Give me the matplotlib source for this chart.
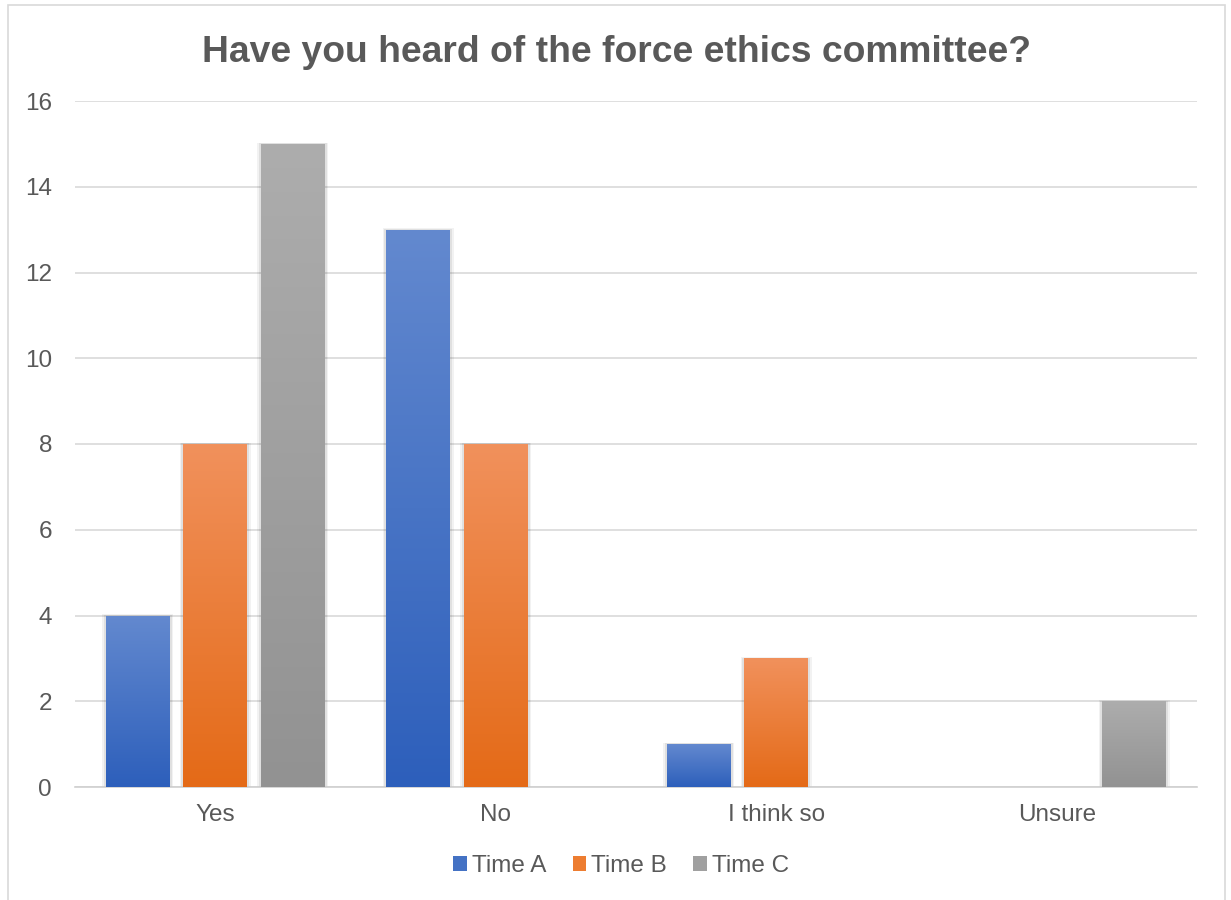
import numpy as np
import matplotlib.pyplot as plt
from matplotlib.colors import LinearSegmentedColormap
from matplotlib.patches import Rectangle

plt.rcParams['font.family'] = ['Liberation Sans', 'DejaVu Sans']

categories = ["Yes", "No", "I think so", "Unsure"]
series = ["Time A", "Time B", "Time C"]
time_a = [4, 13, 1, 0]
time_b = [8, 8, 3, 0]
time_c = [15, 0, 0, 2]
values = [time_a, time_b, time_c]

# (top colour, bottom colour) for each series
gradients = [("#6389cf", "#2d5fbb"), ("#f1915c", "#e46a17"), ("#adadad", "#929292")]
legend_cols = ["#4472c4", "#ed7d31", "#a0a0a0"]
text_col = "#595959"

fig = plt.figure(figsize=(12.31, 9), dpi=100)
ax = fig.add_axes([75 / 1231, 1 - 787 / 900, 1122 / 1231, 686 / 900])

# outer chart frame
fig.patches.append(Rectangle((8 / 1231, -0.01), 1217 / 1231, 1 - 5 / 900 + 0.01,
                             transform=fig.transFigure, fill=False,
                             edgecolor="#d9d9d9", linewidth=1.2))

x = np.arange(len(categories))
width = 0.228
step = 0.276

for i, (vals, (top, bot)) in enumerate(zip(values, gradients)):
    cmap = LinearSegmentedColormap.from_list("g%d" % i, [bot, top])
    grad = np.linspace(0, 1, 256).reshape(-1, 1)
    for xi, v in zip(x, vals):
        if v == 0:
            continue
        left = xi + (i - 1) * step - width / 2
        # soft shadow
        for k, a in [(0.012, 0.05), (0.007, 0.07)]:
            ax.add_patch(Rectangle((left - k, 0), width + 2 * k, v + k * 2.2,
                                   facecolor="black", alpha=a, edgecolor="none", zorder=2))
        rect = Rectangle((left, 0), width, v, facecolor="none", edgecolor="none", zorder=3)
        ax.add_patch(rect)
        im = ax.imshow(grad, cmap=cmap, origin="lower", aspect="auto",
                       extent=[left, left + width, 0, v], zorder=3)
        im.set_clip_path(rect)

# legend handles
for i in range(len(series)):
    ax.bar([np.nan], [np.nan], color=legend_cols[i], label=series[i])

ax.set_xlim(-0.5, len(categories) - 0.5)
ax.set_ylim(0, 16)
ax.set_yticks(range(0, 17, 2))
ax.set_xticks(x)
ax.set_xticklabels(categories)
ax.yaxis.grid(True, color="#d9d9d9", linewidth=1.2)
ax.set_axisbelow(True)
for s in ["top", "right", "left"]:
    ax.spines[s].set_visible(False)
ax.spines["bottom"].set_color("#d0d0d0")
ax.spines["bottom"].set_linewidth(1.2)
ax.tick_params(length=0, labelsize=17.5, colors=text_col, pad=12)
ax.tick_params(axis="y", pad=16.5)

fig.text(617 / 1231, 1 - 52 / 900, "Have you heard of the force ethics committee?",
         ha="center", va="center", fontsize=26.8, fontweight="bold", color=text_col)

leg = fig.legend(loc="center", bbox_to_anchor=(621 / 1231, 1 - 866 / 900), ncol=3,
                 frameon=False, fontsize=17.5, handlelength=0.55, handleheight=0.55,
                 handletextpad=0.2, columnspacing=1.1)
for t in leg.get_texts():
    t.set_color(text_col)

fig.savefig("out.png", dpi=100, facecolor="white")
